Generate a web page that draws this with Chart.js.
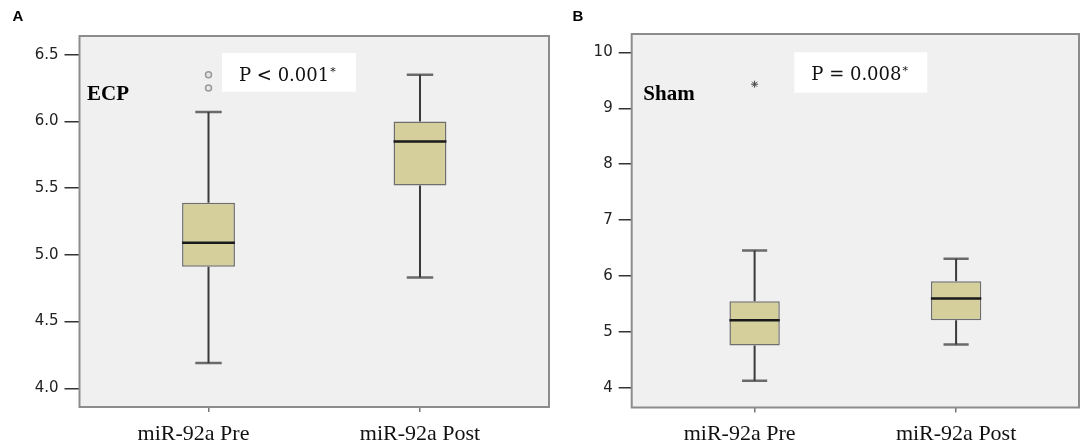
<!DOCTYPE html>
<html>
<head>
<meta charset="utf-8">
<script src="https://cdn.jsdelivr.net/npm/chart.js@4.4.1/dist/chart.umd.min.js"></script>
<style>
  html, body { margin: 0; padding: 0; background: #fff; }
  body { width: 1084px; height: 447px; position: relative; overflow: hidden; }
  canvas { position: absolute; top: 0; }
  #ecpChart { left: 0; }
  #shamChart { left: 560px; }
</style>
</head>
<body>
<canvas id="ecpChart" width="560" height="447"></canvas>
<canvas id="shamChart" width="524" height="447"></canvas>
<script>
const groups = ['miR-92a Pre', 'miR-92a Post'];

// panel A - ECP
const ecpLow = [4.19, 4.83];
const ecpQ1 = [4.91, 5.52];
const ecpMedian = [5.09, 5.85];
const ecpQ3 = [5.39, 6.00];
const ecpHigh = [6.07, 6.35];
const ecpOutliers = [[6.25, 6.35], []];
const ecpTicks = [4.0, 4.5, 5.0, 5.5, 6.0, 6.5];

// panel B - Sham
const shamLow = [4.13, 4.78];
const shamQ1 = [4.76, 5.21];
const shamMedian = [5.21, 5.60];
const shamQ3 = [5.55, 5.91];
const shamHigh = [6.46, 6.31];
const shamOutliers = [[9.43], []];
const shamTicks = [4, 5, 6, 7, 8, 9, 10];

const BOX_W = 0.25;   // box width in x units (groups sit at 1 and 2)
const CAP_W = 0.125;

// join short segments into one line dataset, null y breaks the line
function segments(list) {
    const out = [];
    list.forEach(seg => {
        out.push(seg[0], seg[1], { x: seg[0].x, y: null });
    });
    return out;
}

function panelPlugin(cfg) {
    return {
        id: 'panel_' + cfg.letter,
        beforeDraw(chart) {
            const a = chart.chartArea;
            const ctx = chart.ctx;
            ctx.save();
            ctx.fillStyle = '#f0f0f0';
            ctx.fillRect(a.left, a.top, a.right - a.left, a.bottom - a.top);
            ctx.restore();
        },
        afterDraw(chart) {
            const a = chart.chartArea;
            const ctx = chart.ctx;
            const xs = chart.scales.x;
            ctx.save();

            // frame
            ctx.strokeStyle = '#8c8c8c';
            ctx.lineWidth = 2;
            ctx.strokeRect(a.left, a.top, a.right - a.left, a.bottom - a.top);

            // panel letter
            ctx.fillStyle = '#000';
            ctx.font = 'bold 15px "Liberation Sans"';
            ctx.textAlign = 'left';
            ctx.textBaseline = 'alphabetic';
            ctx.fillText(cfg.letter, cfg.letterX, 20.5);

            // group name
            ctx.font = 'bold 21px "Liberation Serif"';
            ctx.fillText(cfg.title, a.left + cfg.titleDx, a.top + cfg.titleDy);

            // p value box
            const bx = a.left + cfg.pBox[0], by = a.top + cfg.pBox[1];
            ctx.fillStyle = '#fff';
            ctx.fillRect(bx, by, cfg.pBox[2], cfg.pBox[3]);
            ctx.fillStyle = '#111';
            ctx.font = '18px "DejaVu Serif"';
            const tx = bx + 17, ty = by + cfg.pBaseline;
            ctx.fillText(cfg.pText, tx, ty);
            const w = ctx.measureText(cfg.pText).width;
            ctx.font = '11px "DejaVu Serif"';
            ctx.fillText('*', tx + w + 1, ty - 6);

            // category labels
            ctx.fillStyle = '#111';
            ctx.font = '22px "Liberation Serif"';
            ctx.textAlign = 'center';
            groups.forEach((g, i) => {
                const shift = i === 0 ? -15 : 0;
                ctx.fillText(g, xs.getPixelForValue(i + 1) + shift, 440);
            });
            ctx.restore();
        }
    };
}

function createBoxChart(canvasId, d, cfg) {
    const boxes = groups.map((g, i) => ({ x: i + 1, y: [d.q1[i], d.q3[i]] }));
    const whiskers = [], caps = [], medians = [], outliers = [];
    groups.forEach((g, i) => {
        const x = i + 1;
        whiskers.push([{ x: x, y: d.high[i] }, { x: x, y: d.q3[i] }]);
        whiskers.push([{ x: x, y: d.q1[i] }, { x: x, y: d.low[i] }]);
        caps.push([{ x: x - CAP_W / 2, y: d.high[i] }, { x: x + CAP_W / 2, y: d.high[i] }]);
        caps.push([{ x: x - CAP_W / 2, y: d.low[i] }, { x: x + CAP_W / 2, y: d.low[i] }]);
        medians.push([{ x: x - BOX_W / 2, y: d.median[i] }, { x: x + BOX_W / 2, y: d.median[i] }]);
        d.outliers[i].forEach(v => outliers.push({ x: x, y: v }));
    });

    const lineBase = { type: 'line', pointRadius: 0, pointHoverRadius: 0, spanGaps: false, fill: false };

    new Chart(document.getElementById(canvasId), {
        type: 'bar',
        data: {
            datasets: [
                { ...lineBase, data: segments(medians), borderColor: '#1a1a1a', borderWidth: 2.5, order: 0 },
                {
                    type: 'line', showLine: false, data: outliers, order: 1,
                    pointStyle: cfg.outlierStyle, pointRadius: cfg.outlierRadius,
                    pointBorderColor: cfg.outlierColor, pointBackgroundColor: cfg.outlierFill,
                    pointBorderWidth: cfg.outlierBorder
                },
                {
                    data: boxes, order: 2,
                    backgroundColor: 'rgb(213,208,155)', borderColor: '#6e6e6e',
                    borderWidth: 1.5, borderSkipped: false,
                    barPercentage: BOX_W, categoryPercentage: 1
                },
                { ...lineBase, data: segments(whiskers), borderColor: '#3a3a3a', borderWidth: 2, order: 3 },
                { ...lineBase, data: segments(caps), borderColor: '#6a6a6a', borderWidth: 2.5, order: 3 }
            ]
        },
        options: {
            responsive: false,
            animation: false,
            events: [],
            layout: { padding: { left: 0, right: cfg.padRight, top: cfg.padTop, bottom: 0 } },
            plugins: { legend: { display: false }, tooltip: { enabled: false } },
            scales: {
                x: {
                    type: 'linear', min: 0.39, max: 2.61, offset: false,
                    afterBuildTicks: s => { s.ticks = groups.map((g, i) => ({ value: i + 1 })); },
                    afterFit: s => { s.height = cfg.xHeight; },
                    ticks: { display: false },
                    grid: { offset: false, drawOnChartArea: false, drawTicks: true, tickLength: 5, color: '#777', lineWidth: 1.5 },
                    border: { display: false }
                },
                y: {
                    type: 'linear', min: cfg.yMin, max: cfg.yMax,
                    afterBuildTicks: s => { s.ticks = cfg.ticks.map(v => ({ value: v })); },
                    afterFit: s => { s.width = cfg.yWidth; },
                    ticks: {
                        padding: 6, color: '#222',
                        font: { family: 'DejaVu Sans', size: 15 },
                        callback: v => v.toFixed(cfg.decimals)
                    },
                    grid: { drawOnChartArea: false, drawTicks: true, tickLength: cfg.tickLength, color: '#333', lineWidth: 1.5 },
                    border: { display: false }
                }
            }
        },
        plugins: [panelPlugin(cfg)]
    });
}

createBoxChart('ecpChart',
    { low: ecpLow, q1: ecpQ1, median: ecpMedian, q3: ecpQ3, high: ecpHigh, outliers: ecpOutliers },
    {
        letter: 'A', letterX: 12.5, title: 'ECP', titleDx: 7.5, titleDy: 63.5,
        pText: 'P < 0.001', pBox: [142.5, 17, 134, 38.7], pBaseline: 27.5,
        yMin: 3.86, yMax: 6.64, ticks: ecpTicks, decimals: 1,
        yWidth: 79.5, padRight: 11, padTop: 36, xHeight: 40, tickLength: 15,
        outlierStyle: 'circle', outlierRadius: 3, outlierColor: '#9a9a9a', outlierFill: '#e6e6e6', outlierBorder: 1.5
    });

createBoxChart('shamChart',
    { low: shamLow, q1: shamQ1, median: shamMedian, q3: shamQ3, high: shamHigh, outliers: shamOutliers },
    {
        letter: 'B', letterX: 12.4, title: 'Sham', titleDx: 11.6, titleDy: 66,
        pText: 'P = 0.008', pBox: [162.6, 18.3, 133, 40.4], pBaseline: 27.7,
        yMin: 3.652, yMax: 10.327, ticks: shamTicks, decimals: 0,
        yWidth: 71.7, padRight: 4, padTop: 34, xHeight: 39.5, tickLength: 13,
        outlierStyle: 'star', outlierRadius: 3.5, outlierColor: '#444', outlierFill: '#444', outlierBorder: 1
    });
</script>
</body>
</html>
